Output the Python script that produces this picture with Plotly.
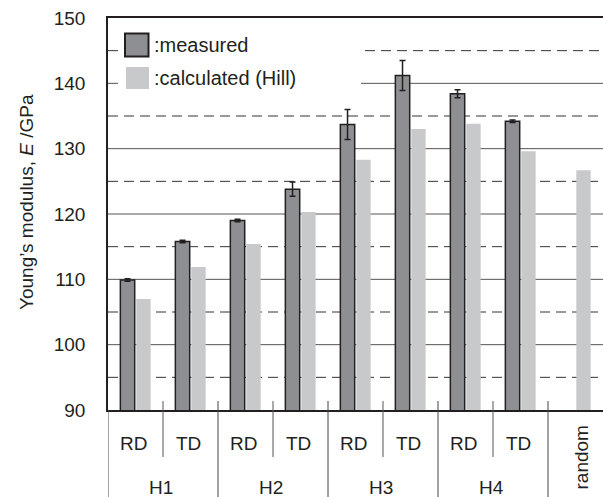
import plotly.graph_objects as go

# ---- data ----
categories = ["H1 RD", "H1 TD", "H2 RD", "H2 TD", "H3 RD", "H3 TD", "H4 RD", "H4 TD", "random"]
direction_labels = ["RD", "TD", "RD", "TD", "RD", "TD", "RD", "TD"]
group_labels = ["H1", "H2", "H3", "H4"]
measured = [109.9, 115.8, 119.0, 123.8, 133.7, 141.2, 138.4, 134.2, None]
measured_err = [0.2, 0.2, 0.2, 1.1, 2.3, 2.3, 0.6, 0.2, None]
calculated = [107.0, 111.9, 115.4, 120.3, 128.3, 133.0, 133.8, 129.6, 126.7]
y_range = [90, 150]
major_grid = [100, 110, 120, 130, 140]
minor_grid = [95, 105, 115, 125, 135, 145]

FONT = "Liberation Sans"
TXT = "#231f20"

# plot geometry (pixels)
W, H = 603, 497
L, R, T, B = 108, 0, 18, 87
PW, PH = W - L - R, H - T - B


def px(x):
    return (x - L) / PW


def py(y):
    return (H - B - y) / PH


fig = go.Figure()
fig.add_trace(go.Bar(
    x=categories, y=measured, name=":measured",
    marker=dict(color="#8e8f93", line=dict(color="#231f20", width=1.5)),
    error_y=dict(type="data", array=measured_err, visible=True,
                 color="#231f20", thickness=1.5, width=3),
))
fig.add_trace(go.Bar(
    x=categories, y=calculated, name=":calculated (Hill)",
    marker=dict(color="#c8c9cb", line=dict(width=0)),
))

shapes = []
# gridlines (interrupted by the legend box at top-left)
LEG_L, LEG_R, LEG_B = px(118), px(361), 138
for v in major_grid:
    segs = [(0, 1)] if v < LEG_B else [(0, LEG_L), (LEG_R, 1)]
    for a, b in segs:
        shapes.append(dict(type="line", xref="paper", yref="y", x0=a, x1=b, y0=v, y1=v,
                           line=dict(color="#555", width=1), layer="below"))
for v in minor_grid:
    segs = [(0, 1)] if v < LEG_B else [(0, LEG_L), (px(365), 1)]
    for a, b in segs:
        shapes.append(dict(type="line", xref="paper", yref="y", x0=a, x1=b, y0=v, y1=v,
                           line=dict(color="#333", width=1, dash="10px,6px"), layer="below"))

# legend swatches
shapes.append(dict(type="rect", xref="paper", yref="paper",
                   x0=px(125), x1=px(148.5), y0=py(56.5), y1=py(33.5),
                   fillcolor="#8e8f93", line=dict(color="#231f20", width=2), layer="above"))
shapes.append(dict(type="rect", xref="paper", yref="paper",
                   x0=px(126), x1=px(149), y0=py(89), y1=py(67),
                   fillcolor="#c8c9cb", line=dict(width=0), layer="above"))

# category separators
n = len(categories)
for i in range(n):
    xpos = i - 0.5
    if i == 0:
        y0, y1, col = 0, py(497), "#444"
    elif i % 2 == 1 and i < n - 1:
        y0, y1, col = py(401), py(457), "#555"
    else:
        y0, y1, col = py(401), py(497), "#444"
    shapes.append(dict(type="line", xref="x", yref="paper",
                       x0=xpos, x1=xpos, y0=y0, y1=y1,
                       line=dict(color=col, width=1)))

annotations = []


def ann(**kw):
    base = dict(showarrow=False, xanchor="center", yanchor="middle",
                font=dict(family=FONT, size=19, color=TXT))
    base.update(kw)
    annotations.append(base)


for c, lab in zip(categories[:8], direction_labels):
    ann(x=c, y=py(443), xref="x", yref="paper", text=lab, xshift=-2)
for k, g in enumerate(group_labels):
    ann(x=2 * k + 0.5, y=py(487), xref="x", yref="paper", text=g, xshift=-2)
ann(x=categories[8], y=py(458), xref="x", yref="paper", text="random",
    textangle=-90, xshift=6)
ann(x=px(26), y=py(202), xref="paper", yref="paper",
    text="Young’s modulus, <i>E</i> /GPa", textangle=-90)
ann(x=px(152), y=py(45), xref="paper", yref="paper", text=":measured",
    xanchor="left", font=dict(family=FONT, size=20, color=TXT))
ann(x=px(152), y=py(77.5), xref="paper", yref="paper", text=":calculated (Hill)",
    xanchor="left", font=dict(family=FONT, size=20, color=TXT))

fig.update_layout(
    width=W, height=H,
    margin=dict(l=L, r=R, t=T, b=B, pad=0),
    paper_bgcolor="white", plot_bgcolor="white",
    barmode="group", bargap=0.42, bargroupgap=0.1,
    showlegend=False,
    shapes=shapes, annotations=annotations,
    font=dict(family=FONT, size=19, color=TXT),
    xaxis=dict(type="category", categoryorder="array", categoryarray=categories,
               range=[-0.5, n - 0.5], showticklabels=False, ticks="",
               showgrid=False, showline=True, mirror=True,
               linecolor="#231f20", linewidth=1.5, zeroline=False),
    yaxis=dict(range=y_range, dtick=10, tick0=90, ticks="",
               showline=True, linecolor="#231f20", linewidth=1.5,
               showgrid=False, ticklabelstandoff=17, zeroline=False,
               tickfont=dict(family=FONT, size=19, color=TXT)),
)

fig.write_html("out.html", config={"displayModeBar": False},
               post_script="document.body.style.margin='0';document.body.style.overflow='hidden';")
